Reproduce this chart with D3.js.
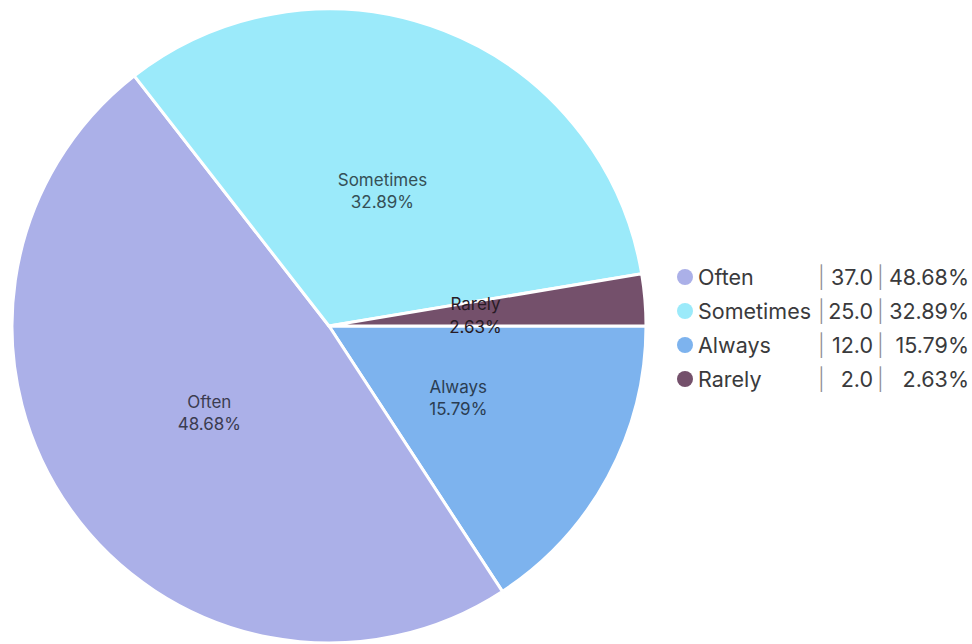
<!DOCTYPE html>
<html>
<head>
  <meta charset="utf-8">
  <title>Pie</title>
  <style>
    body { margin: 0; background: #fff; }
    .slice-label { font-family: Inter, "Open Sans", sans-serif; font-size: 17px; text-anchor: middle; }
    .legend text { font-family: Inter, "Open Sans", sans-serif; font-size: 21.5px; fill: #3a3a3c; }
    .legend .sep { fill: #8e8e93; font-weight: 300; }
  </style>
  <script src="https://d3js.org/d3.v7.min.js"></script>
</head>
<body>
  <script>
    // data
    var categories = ['Always', 'Often', 'Sometimes', 'Rarely'];   // drawing order, clockwise from 3 o'clock
    var values = [12, 37, 25, 2];
    var legendOrder = ['Often', 'Sometimes', 'Always', 'Rarely'];
    var colors = ['#7db3ee', '#abb0e8', '#9beafa', '#74506b'];

    var width = 972, height = 644;
    var cx = 329, cy = 326, radius = 317;
    var labelR = 147;

    var svg = d3.select('body').append('svg')
      .attr('width', width)
      .attr('height', height);

    var total = d3.sum(values);
    var color = d3.scaleOrdinal().domain(categories).range(colors);
    var pct = function(v) { return d3.format('.2f')(v / total * 100) + '%'; };

    var pie = d3.pie()
      .sort(null)
      .value(function(d) { return d.value; })
      .startAngle(Math.PI / 2)
      .endAngle(Math.PI / 2 + 2 * Math.PI);

    var data = categories.map(function(c, i) { return {name: c, value: values[i]}; });
    var arcs = pie(data);

    var arc = d3.arc().innerRadius(0).outerRadius(radius);
    var labelArc = d3.arc().innerRadius(labelR).outerRadius(labelR);

    var g = svg.append('g').attr('transform', 'translate(' + cx + ',' + cy + ')');

    g.selectAll('path')
      .data(arcs)
      .enter()
      .append('path')
      .attr('d', arc)
      .attr('fill', function(d) { return color(d.data.name); })
      .attr('stroke', '#fff')
      .attr('stroke-width', 3)
      .attr('stroke-linejoin', 'round');

    var labels = g.selectAll('.slice-label')
      .data(arcs)
      .enter()
      .append('text')
      .attr('class', 'slice-label')
      .attr('transform', function(d) { return 'translate(' + labelArc.centroid(d) + ')'; })
      .attr('fill', function(d) { return d3.color(color(d.data.name)).darker(3); });
    labels.append('tspan').attr('x', 0).attr('dy', '-0.2em').text(function(d) { return d.data.name; });
    labels.append('tspan').attr('x', 0).attr('dy', '1.3em').text(function(d) { return pct(d.data.value); });

    // legend
    var legend = svg.append('g').attr('class', 'legend').attr('transform', 'translate(0,277)');
    var rowH = 34;
    var rows = legend.selectAll('g')
      .data(legendOrder)
      .enter()
      .append('g')
      .attr('transform', function(d, i) { return 'translate(0,' + i * rowH + ')'; });

    rows.append('circle')
      .attr('cx', 685)
      .attr('cy', 0)
      .attr('r', 8)
      .attr('fill', function(d) { return color(d); });
    rows.append('text').attr('x', 698).attr('dy', '0.36em').text(function(d) { return d; });
    rows.append('text').attr('class', 'sep').attr('x', 818).attr('dy', '0.36em').text('|');
    rows.append('text').attr('x', 873).attr('dy', '0.36em').attr('text-anchor', 'end')
      .text(function(d) { return d3.format('.1f')(values[categories.indexOf(d)]); });
    rows.append('text').attr('class', 'sep').attr('x', 877).attr('dy', '0.36em').text('|');
    rows.append('text').attr('x', 969).attr('dy', '0.36em').attr('text-anchor', 'end')
      .text(function(d) { return pct(values[categories.indexOf(d)]); });
  </script>
</body>
</html>
